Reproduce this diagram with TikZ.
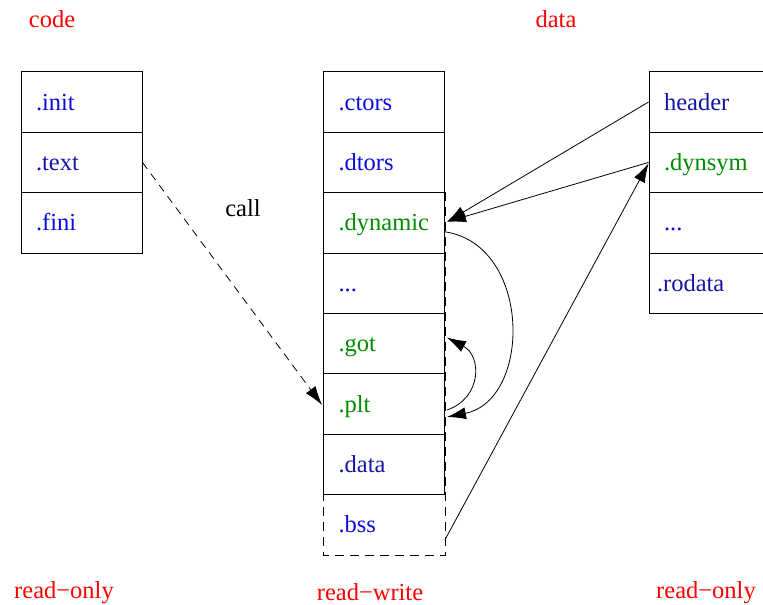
\documentclass[tikz,border=0pt]{standalone}
\usepackage{fontspec}
\setmainfont{Liberation Serif}
\usetikzlibrary{arrows.meta}
\definecolor{secblue}{RGB}{10,10,225}
\definecolor{secnavy}{RGB}{20,20,170}
\definecolor{secgreen}{RGB}{0,140,0}
\definecolor{lblred}{RGB}{255,0,0}
\tikzset{
  cell/.style={draw, line width=0.9pt, rectangle, minimum height=60.4pt, inner ysep=0pt,
    inner xsep=15pt, text width=91pt, align=left, text height=20pt, text depth=4pt,
    font=\fontsize{24.5}{27}\selectfont},
  captxt/.style={text=lblred, font=\fontsize{24.5}{27}\selectfont, inner sep=0pt},
  arrtip/.style={-{Latex[length=19pt,width=12pt]}},
  conn/.style={line width=0.8pt}
}
\begin{document}
\begin{tikzpicture}[x=1pt,y=-1pt]
\useasboundingbox (0,0) rectangle (763,605);
% left column
\node[cell, text=secblue] (init) at (81.5,102) {.init};
\node[cell, text=secnavy] (text) at (81.5,162.4) {.text};
\node[cell, text=secblue] (fini) at (81.5,222.8) {.fini};
% middle column
\node[cell, text=secblue] (ctors) at (384,102) {.ctors};
\node[cell, text=secblue] (dtors) at (384,162.4) {.dtors};
\node[cell, text=secgreen] (dyn) at (384,222.8) {.dynamic};
\node[cell, text=secblue] (dots) at (384,283.2) {...};
\node[cell, text=secgreen] (got) at (384,343.6) {.got};
\node[cell, text=secgreen] (plt) at (384,404) {.plt};
\node[cell, text=secnavy] (data) at (384,464.4) {.data};
\node[cell, draw=none, text=secblue] (bss) at (384,524.8) {.bss};
\draw[line width=0.9pt, dashed, dash pattern=on 9pt off 6pt] (dyn.north west) rectangle (bss.south east);
% right column
\node[cell, text=secnavy] (hdr) at (709.5,102) {header};
\node[cell, text=secgreen] (dsym) at (709.5,162.4) {.dynsym};
\node[cell, text=secblue] (rdots) at (709.5,222.8) {...};
\node[cell, text=secnavy, inner xsep=8pt, text width=105pt] (ro) at (709.5,283.2) {.rodata};
% captions
\node[captxt] (ccode) at (52,19) {code};
\node[captxt] (cdata) at (556,19) {data};
\node[captxt, text=black] (ccall) at (243,208) {call};
\node[captxt] (rol) at (64,592.5) {read−only};
\node[captxt] (rw) at (370,592) {read−write};
\node[captxt] (ror) at (706,592.5) {read−only};
% connectors
\coordinate (textE) at (text.east);
\coordinate (pltW) at ([yshift=-1pt,xshift=-1pt]plt.west);
\draw[conn, arrtip, dashed, dash pattern=on 8pt off 6pt] (textE) -- (pltW);
\coordinate (dynE) at ([xshift=2pt,yshift=1pt]dyn.east);
\draw[conn, arrtip] (hdr.west) -- (dynE);
\draw[conn, arrtip] (dsym.west) -- (dynE);
\coordinate (dsymW) at ([yshift=-1pt]dsym.west);
\draw[conn, arrtip] ([yshift=-15pt]bss.east) -- (dsymW);
\coordinate (dynE2) at ([yshift=-9pt]dyn.east);
\coordinate (pltE) at ([xshift=2pt,yshift=-13pt]plt.east);
\draw[conn, arrtip] (dynE2) .. controls (532,245) and (532,400) .. (pltE);
\coordinate (pltE2) at ([xshift=2pt,yshift=-6pt]plt.east);
\coordinate (gotE) at ([xshift=2pt,yshift=6pt]got.east);
\draw[conn, arrtip] (pltE2) .. controls (482,398) and (482,356) .. (gotE);
\end{tikzpicture}
\end{document}
